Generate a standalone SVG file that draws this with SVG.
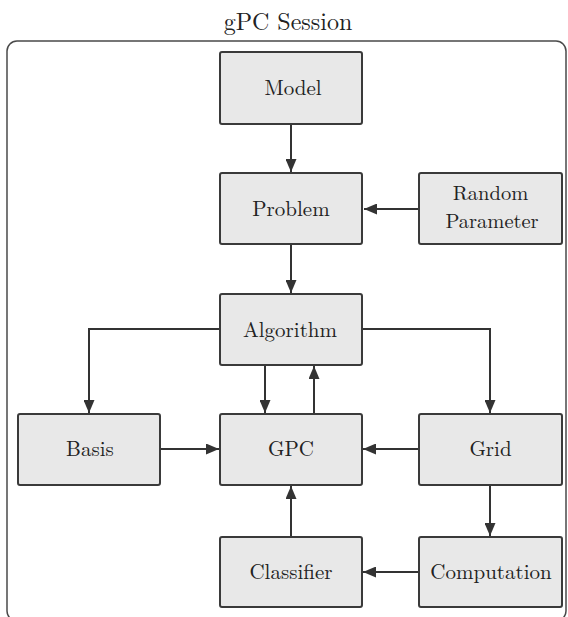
<svg xmlns="http://www.w3.org/2000/svg" width="568" height="617" viewBox="0 0 568 617">
<style>
.box{fill:#e8e8e8;stroke:#3a3a3a;stroke-width:2}
text{font-family:'Latin Modern Roman','Liberation Serif',serif;fill:#222;text-anchor:middle}
.lbl{font-size:21px}
.ttl{font-size:24px}
.c{fill:none;stroke:#333;stroke-width:2}
</style>
<defs>
<marker id="ah" viewBox="0 0 13 11" refX="13" refY="5.5" markerWidth="13" markerHeight="11" markerUnits="userSpaceOnUse" orient="auto">
<path d="M0,0 L13,5.5 L0,11 Z" fill="#333"/>
</marker>
</defs>
<rect x="7" y="41" width="559" height="580" rx="10" fill="none" stroke="#4a4a4a" stroke-width="1.5"/>
<text class="ttl" x="288" y="30">gPC Session</text>
<g id="connectors">
<path class="c" d="M291,124 V172" marker-end="url(#ah)"/>
<path class="c" d="M419,209 H364" marker-end="url(#ah)"/>
<path class="c" d="M291,244 V293" marker-end="url(#ah)"/>
<path class="c" d="M220,329 H89 V413" marker-end="url(#ah)"/>
<path class="c" d="M361,329 H490 V413" marker-end="url(#ah)"/>
<path class="c" d="M265,365 V413" marker-end="url(#ah)"/>
<path class="c" d="M314,414 V366" marker-end="url(#ah)"/>
<path class="c" d="M160,449 H219" marker-end="url(#ah)"/>
<path class="c" d="M419,449 H363" marker-end="url(#ah)"/>
<path class="c" d="M490,485 V536" marker-end="url(#ah)"/>
<path class="c" d="M419,572 H363" marker-end="url(#ah)"/>
<path class="c" d="M291,537 V486" marker-end="url(#ah)"/>
</g>
<g id="model"><rect class="box" x="220" y="52" width="142" height="72" rx="2"/><text class="lbl" x="293" y="95">Model</text></g>
<g id="problem"><rect class="box" x="220" y="173" width="142" height="71" rx="2"/><text class="lbl" x="291" y="216">Problem</text></g>
<g id="random-parameter"><rect class="box" x="419" y="173" width="143" height="71" rx="2"/><text class="lbl" x="490.5" y="200" style="font-size:20.5px">Random</text><text class="lbl" x="492" y="228" style="font-size:20.5px">Parameter</text></g>
<g id="algorithm"><rect class="box" x="220" y="294" width="142" height="71" rx="2"/><text class="lbl" x="290" y="337">Algorithm</text></g>
<g id="basis"><rect class="box" x="18" y="414" width="142" height="71" rx="2"/><text class="lbl" x="90" y="456">Basis</text></g>
<g id="gpc"><rect class="box" x="220" y="414" width="142" height="71" rx="2"/><text class="lbl" x="291" y="456">GPC</text></g>
<g id="grid"><rect class="box" x="419" y="414" width="143" height="71" rx="2"/><text class="lbl" x="490.5" y="456">Grid</text></g>
<g id="classifier"><rect class="box" x="220" y="537" width="142" height="70" rx="2"/><text class="lbl" x="291" y="579">Classifier</text></g>
<g id="computation"><rect class="box" x="419" y="537" width="143" height="70" rx="2"/><text class="lbl" x="491" y="579">Computation</text></g>
</svg>
